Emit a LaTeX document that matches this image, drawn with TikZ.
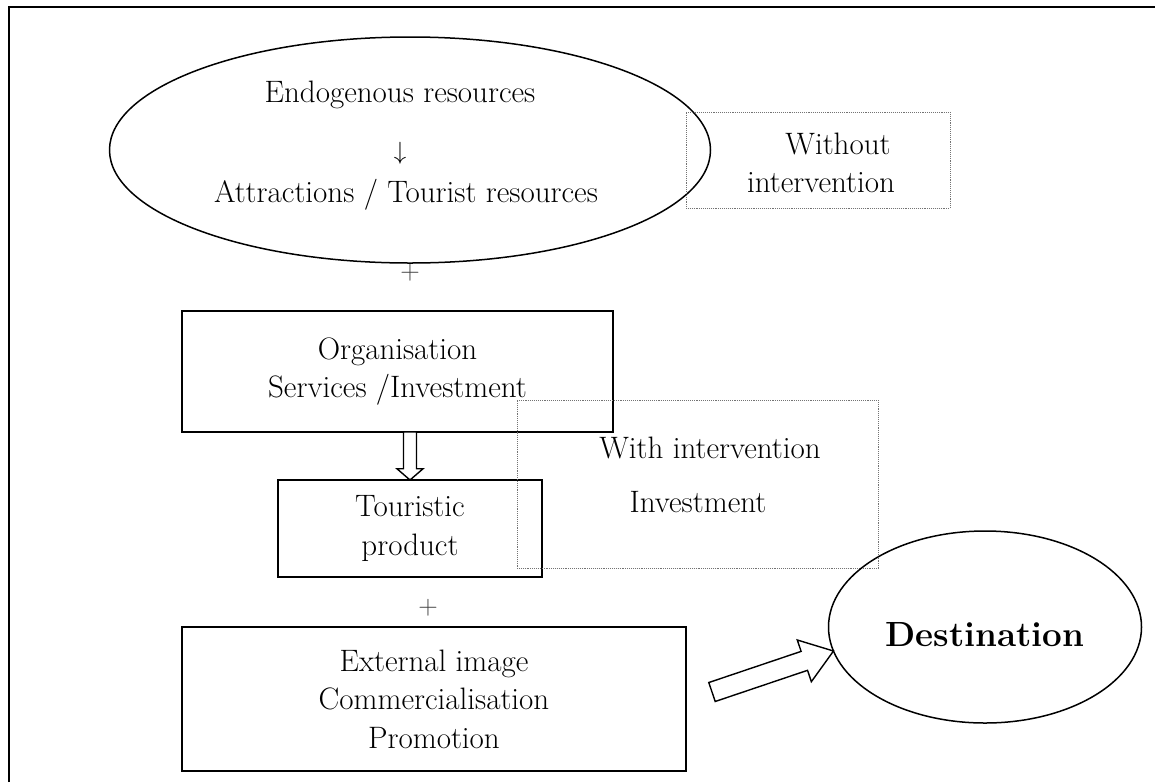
\documentclass[tikz,border=0pt]{standalone}
\usepackage{fontspec}
\usetikzlibrary{shapes.geometric,calc}
\begin{document}
\begin{tikzpicture}[x=1pt, y=-1pt,
    font=\fontsize{31}{38.5}\selectfont,
    box/.style={draw, line width=1.8pt, inner sep=0pt, outer sep=0pt, align=center},
    dotbox/.style={draw=black!55, densely dotted, line width=0.9pt, inner sep=0pt, outer sep=0pt},
    oval/.style={draw, ellipse, line width=1.5pt, inner sep=0pt, outer sep=0pt},
    hollow/.style={draw, line width=1.4pt, line join=miter, fill=white},
    plus/.style={font=\fontsize{27}{30}\selectfont, text=black!75}]

    \useasboundingbox (0,0) rectangle (1155,782);
    \draw[line width=2.5pt] (9,782) -- (9,7) -- (1155,7);

    % resources
    \node[oval, minimum width=601, minimum height=226] (res) at (410,150) {};
    \node[anchor=base] (endo) at (400,102) {Endogenous resources};
    \node (darr) at (400,153) {$\downarrow$};
    \node[anchor=base] (attr) at (406,202) {Attractions / Tourist resources};

    \node[dotbox, minimum width=264, minimum height=96] (without) at (818,160) {};
    \node[anchor=base] (wo1) at (838,154) {Without};
    \node[anchor=base] (wo2) at (821,192) {intervention};

    \node[plus] (plus1) at (410,273) {+};

    \node[box, minimum width=431, minimum height=121] (org) at (397.5,371.5) {Organisation\\Services /Investment};
    \node[box, minimum width=264, minimum height=97] (tour) at (410,528.5) {Touristic\\product};

    \node[dotbox, minimum width=361, minimum height=168] (withbox) at (697.5,484) {};
    \node[anchor=base] (wi1) at (710,458) {With intervention};
    \node[anchor=base] (wi2) at (698,512) {Investment};

    \node[plus] (plus2) at (428,608) {+};
    \node[box, minimum width=504, minimum height=144] (ext) at (434,699) {External image\\Commercialisation\\Promotion};
    \node[oval, minimum width=313, minimum height=192, font=\fontsize{35}{40}\selectfont\bfseries, text height=40pt] (dest) at (985,627) {Destination};

    % hollow arrows
    \coordinate (dtop) at (tour.north |- org.south);
    \coordinate (dhead) at ($(dtop)!0.766!(tour.north)$);
    \draw[hollow] ($(dtop)!6.5pt!90:(tour.north)$) -- ($(dhead)!6.5pt!90:(tour.north)$) -- ($(dhead)!13pt!90:(tour.north)$) -- (tour.north) -- ($(dhead)!13pt!-90:(tour.north)$) -- ($(dhead)!6.5pt!-90:(tour.north)$) -- ($(dtop)!6.5pt!-90:(tour.north)$) -- cycle;

    \coordinate (atail) at (712,692);
    \coordinate (ahead) at ($(atail)!0.76!(dest.189)$);
    \draw[hollow] ($(atail)!10pt!90:(dest.189)$) -- ($(ahead)!10pt!90:(dest.189)$) -- ($(ahead)!22pt!90:(dest.189)$) -- (dest.189) -- ($(ahead)!22pt!-90:(dest.189)$) -- ($(ahead)!10pt!-90:(dest.189)$) -- ($(atail)!10pt!-90:(dest.189)$) -- cycle;
\end{tikzpicture}
\end{document}
